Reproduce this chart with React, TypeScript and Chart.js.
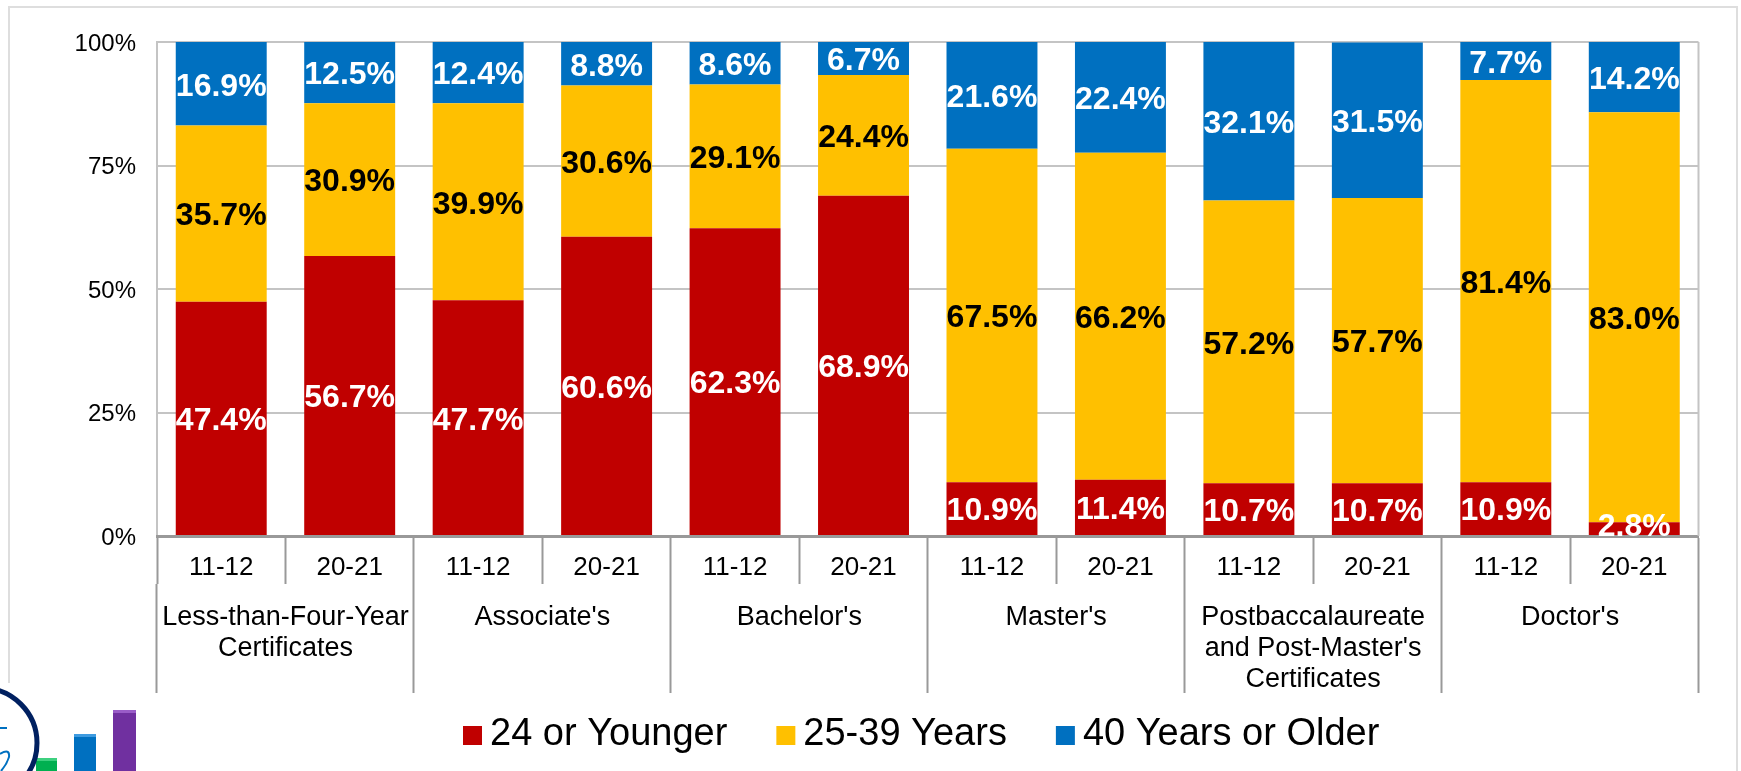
import React, { useEffect, useRef } from "react";
import { Chart, registerables } from "chart.js";

Chart.register(...registerables);

const years = ["11-12", "20-21", "11-12", "20-21", "11-12", "20-21", "11-12", "20-21", "11-12", "20-21", "11-12", "20-21"];
const credentials: (string | string[])[] = [
  ["Less-than-Four-Year", "Certificates"],
  "Associate's",
  "Bachelor's",
  "Master's",
  ["Postbaccalaureate", "and Post-Master's", "Certificates"],
  "Doctor's",
];
const younger = [47.4, 56.7, 47.7, 60.6, 62.3, 68.9, 10.9, 11.4, 10.7, 10.7, 10.9, 2.8];
const middle = [35.7, 30.9, 39.9, 30.6, 29.1, 24.4, 67.5, 66.2, 57.2, 57.7, 81.4, 83.0];
const older = [16.9, 12.5, 12.4, 8.8, 8.6, 6.7, 21.6, 22.4, 32.1, 31.5, 7.7, 14.2];
const yTicks = [0, 25, 50, 75, 100];

const FONT = '"Liberation Sans", Arial, sans-serif';
const RED = "#C00000";
const YELLOW = "#FFC000";
const BLUE = "#0070C0";
const AXIS = "#999999";
const GRID = "#C4C4C4";
const FRAME = "#DEDEDE";

const nudgeLabels = (scale: any, dy: number) => {
  if (scale.__nudged) return;
  scale.__nudged = true;
  const orig = scale._computeLabelItems.bind(scale);
  scale._computeLabelItems = (area: any) => {
    const items = orig(area);
    items.forEach((item: any) => {
      item.options.translation[1] += dy;
    });
    return items;
  };
  scale._labelItems = null;
};

const framePlugin = {
  id: "frame",
  beforeDraw(chart: any) {
    const { ctx } = chart;
    ctx.save();
    ctx.fillStyle = "#FFFFFF";
    ctx.fillRect(0, 0, chart.width, chart.height);
    ctx.strokeStyle = FRAME;
    ctx.lineWidth = 2;
    ctx.beginPath();
    ctx.moveTo(9, 683);
    ctx.lineTo(9, 7);
    ctx.lineTo(1737, 7);
    ctx.lineTo(1737, 771);
    ctx.stroke();
    ctx.restore();
  },
  afterDraw(chart: any) {
    const { ctx, chartArea } = chart;
    ctx.save();
    ctx.strokeStyle = GRID;
    ctx.lineWidth = 2;
    ctx.beginPath();
    ctx.moveTo(chartArea.right, chartArea.top);
    ctx.lineTo(chartArea.right, chartArea.bottom);
    ctx.stroke();
    ctx.restore();
  },
};

const dataLabelPlugin = {
  id: "dataLabels",
  afterDatasetsDraw(chart: any) {
    const { ctx, chartArea } = chart;
    ctx.save();
    ctx.beginPath();
    ctx.rect(chartArea.left, chartArea.top, chartArea.width, chartArea.height);
    ctx.clip();
    ctx.font = `bold 32px ${FONT}`;
    ctx.textAlign = "center";
    ctx.textBaseline = "middle";
    chart.data.datasets.forEach((ds: any, i: number) => {
      const meta = chart.getDatasetMeta(i);
      meta.data.forEach((bar: any, j: number) => {
        const mid = (bar.y + bar.base) / 2;
        const y = Math.min(mid + 2, chartArea.bottom - 10);
        ctx.fillStyle = ds.labelColor;
        ctx.fillText(`${ds.data[j].toFixed(1)}%`, bar.x, y + 1);
      });
    });
    ctx.restore();
  },
};

const legendPlugin = {
  id: "sideLegend",
  afterDraw(chart: any) {
    const { ctx } = chart;
    ctx.save();
    ctx.font = `38px ${FONT}`;
    ctx.textBaseline = "middle";
    ctx.textAlign = "left";
    let x = 463;
    chart.data.datasets.forEach((ds: any) => {
      ctx.fillStyle = ds.backgroundColor;
      ctx.fillRect(x, 726, 19, 19);
      ctx.fillStyle = "#000000";
      ctx.fillText(ds.label, x + 27, 735);
      x += 27 + ctx.measureText(ds.label).width + 49;
    });
    ctx.restore();
  },
};

const logoPlugin = {
  id: "logo",
  afterDraw(chart: any) {
    const { ctx } = chart;
    ctx.save();
    const bars: [number, number, number, string, string][] = [
      [36, 758, 21, "#00B050", "#3DD07F"],
      [74, 734, 22, "#0070C0", "#3E9BE0"],
      [113, 710, 23, "#7030A0", "#9A5CC8"],
    ];
    bars.forEach(([x, y, w, c, top]) => {
      ctx.fillStyle = c;
      ctx.fillRect(x, y, w, 771 - y);
      ctx.fillStyle = top;
      ctx.fillRect(x, y, w, 3);
    });
    ctx.strokeStyle = "#002060";
    ctx.lineWidth = 5;
    ctx.beginPath();
    ctx.arc(-18, 743, 55, -Math.PI / 2, Math.PI / 2);
    ctx.stroke();
    ctx.strokeStyle = "#0070C0";
    ctx.lineWidth = 2;
    ctx.beginPath();
    ctx.moveTo(0, 728);
    ctx.lineTo(7, 728);
    ctx.moveTo(0, 754);
    ctx.quadraticCurveTo(10, 748, 9, 757);
    ctx.quadraticCurveTo(7, 764, 1, 771);
    ctx.stroke();
    ctx.restore();
  },
};

export default function App() {
  const ref = useRef<HTMLCanvasElement>(null);
  useEffect(() => {
    const chart = new Chart(ref.current as HTMLCanvasElement, {
      type: "bar",
      data: {
        labels: years,
        datasets: [
          { label: "24 or Younger", data: younger, backgroundColor: RED, labelColor: "#FFFFFF" },
          { label: "25-39 Years", data: middle, backgroundColor: YELLOW, labelColor: "#000000" },
          { label: "40 Years or Older", data: older, backgroundColor: BLUE, labelColor: "#FFFFFF" },
        ] as any,
      },
      options: {
        responsive: false,
        animation: false,
        layout: { padding: { left: 0, top: 42, right: 42.5, bottom: 78 } },
        datasets: { bar: { categoryPercentage: 1, barPercentage: 0.708 } },
        plugins: { legend: { display: false }, tooltip: { enabled: false }, title: { display: false } },
        scales: {
          y: {
            stacked: true,
            min: 0,
            max: 100,
            afterBuildTicks(scale: any) {
              scale.ticks = yTicks.map((value) => ({ value }));
            },
            afterFit(scale: any) {
              scale.width = 157;
            },
            afterUpdate(scale: any) {
              nudgeLabels(scale, 2);
            },
            ticks: {
              callback: (v: any) => `${v}%`,
              color: "#000000",
              font: { family: FONT, size: 24 },
              padding: 21,
            },
            grid: { color: GRID, lineWidth: 2, drawTicks: false },
            border: { color: GRID, width: 2 },
          },
          x: {
            stacked: true,
            offset: true,
            weight: 0,
            afterFit(scale: any) {
              scale.height = 48;
            },
            ticks: {
              color: "#000000",
              font: { family: FONT, size: 26 },
              autoSkip: false,
              maxRotation: 0,
              minRotation: 0,
              padding: -32,
            },
            grid: {
              offset: true,
              drawOnChartArea: false,
              drawTicks: true,
              tickLength: 48,
              tickColor: AXIS,
              tickWidth: 2,
            },
            border: { color: AXIS, width: 3 },
          },
          x2: {
            type: "category",
            labels: credentials as any,
            position: "bottom",
            offset: true,
            weight: 1,
            afterFit(scale: any) {
              scale.height = 109;
            },
            ticks: {
              color: "#000000",
              font: { family: FONT, size: 27, lineHeight: 1.15 },
              autoSkip: false,
              maxRotation: 0,
              minRotation: 0,
              padding: -91,
            },
            grid: {
              offset: true,
              drawOnChartArea: false,
              drawTicks: true,
              tickLength: 109,
              tickColor: AXIS,
              tickWidth: 2,
            },
            border: { display: false },
          },
        },
      } as any,
      plugins: [framePlugin, dataLabelPlugin, legendPlugin, logoPlugin],
    });
    return () => chart.destroy();
  }, []);
  return (
    <div style={{ position: "absolute", left: 0, top: 0, width: 1741, height: 771, overflow: "hidden" }}>
      <canvas ref={ref} width={1741} height={771} style={{ display: "block" }} />
    </div>
  );
}
